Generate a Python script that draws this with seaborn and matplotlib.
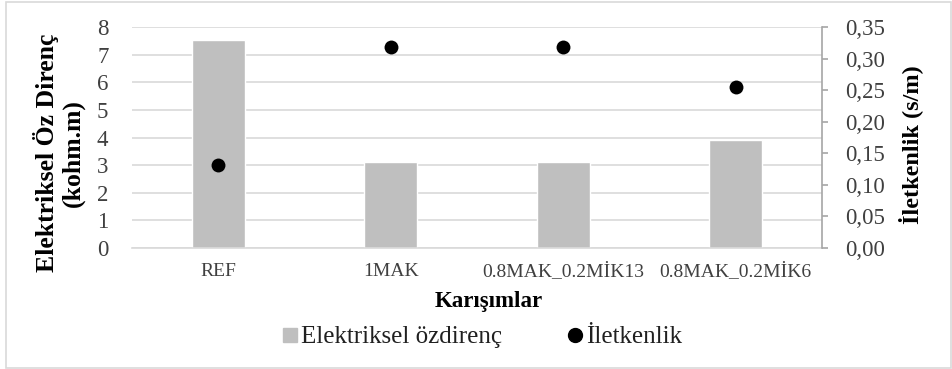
import numpy as np
import pandas as pd
import matplotlib
matplotlib.use("Agg")
import matplotlib.pyplot as plt
import seaborn as sns
from matplotlib.ticker import FuncFormatter, MultipleLocator
from matplotlib.lines import Line2D
from matplotlib.patches import Rectangle

# Data
karisimlar = ["REF", "1MAK", "0.8MAK_0.2MİK13", "0.8MAK_0.2MİK6"]
ozdirenc = [7.54, 3.13, 3.10, 3.90]        # kohm.m
iletkenlik = [0.132, 0.318, 0.319, 0.255]  # s/m

left_ticks = [0, 1, 2, 3, 4, 5, 6, 7, 8]
right_ticks = [0.00, 0.05, 0.10, 0.15, 0.20, 0.25, 0.30, 0.35]

sns.set_theme(style="white")
plt.rcParams["font.family"] = ["Liberation Serif", "DejaVu Serif"]

W, H = 952, 369
fig = plt.figure(figsize=(W / 100, H / 100), dpi=100)
ax = fig.add_axes([132 / W, 1 - 248 / H, (822 - 132) / W, (248 - 27) / H])

df = pd.DataFrame({"Karışımlar": karisimlar, "Özdirenç": ozdirenc, "İletkenlik": iletkenlik})

bar_color = "#bfbfbf"
grid_color = "#d9d9d9"
axis_gray = "#a6a6a6"
text_color = "#404040"

sns.barplot(data=df, x="Karışımlar", y="Özdirenç", order=karisimlar, color=bar_color,
            saturation=1, width=0.31, errorbar=None, ax=ax, zorder=2)
ax.set_ylim(0, 8)
ax.set_yticks(left_ticks)
ax.set_xlim(-0.5, len(karisimlar) - 0.5)
ax.set_axisbelow(True)
ax.grid(axis="y", color=grid_color, linewidth=1.2)
ax.grid(axis="x", visible=False)
for s in ["left", "right", "top"]:
    ax.spines[s].set_visible(False)
ax.spines["bottom"].set_color(grid_color)
ax.spines["bottom"].set_linewidth(1.2)
ax.tick_params(axis="y", length=0, pad=17, labelsize=16.5, colors=text_color)
ax.tick_params(axis="x", length=0, pad=10.5, labelsize=14, colors=text_color)
ax.set_xlabel("")
ax.set_ylabel("")

# Secondary axis for conductivity
ax2 = ax.twinx()
sns.stripplot(data=df, x="Karışımlar", y="İletkenlik", order=karisimlar, jitter=False,
              color="black", size=10, ax=ax2, zorder=3)
ax2.set_xlim(-0.5, len(karisimlar) - 0.5)
ax2.set_ylim(0, 0.35)
ax2.set_yticks(right_ticks)
ax2.yaxis.set_major_formatter(FuncFormatter(lambda v, p: f"{v:.2f}".replace(".", ",")))
ax2.grid(False)
for s in ["left", "top", "bottom"]:
    ax2.spines[s].set_visible(False)
ax2.spines["right"].set_visible(True)
ax2.spines["right"].set_color(axis_gray)
ax2.spines["right"].set_linewidth(1.2)
ax2.tick_params(axis="y", direction="out", length=4.5, width=1.2, color=axis_gray,
                pad=12, labelsize=16.5, labelcolor=text_color, right=True)
ax2.set_ylabel("")
ax2.set_xlabel("")

# Axis titles
fig.text(59 / W, 1 - 153 / H, "Elektriksel Öz Direnç\n(kohm.m)", rotation=90,
         ha="center", va="center", multialignment="center", fontsize=18.5,
         fontweight="bold", color="black", linespacing=1.15)
fig.text(911 / W, 1 - 145 / H, "İletkenlik (s/m)", rotation=90, ha="center", va="center",
         fontsize=17.5, fontweight="bold", color="black")
fig.text(489 / W, 1 - 302 / H, "Karışımlar", ha="center", va="center",
         fontsize=16.5, fontweight="bold", color="black")

# Legend
handles = [
    Line2D([], [], marker="s", linestyle="none", markersize=9.5,
           markerfacecolor=bar_color, markeredgecolor=bar_color),
    Line2D([], [], marker="o", linestyle="none", markersize=10,
           markerfacecolor="black", markeredgecolor="black"),
]
fig.legend(handles, ["Elektriksel özdirenç", "İletkenlik"], loc="center",
           bbox_to_anchor=(482 / W, 1 - 337 / H), ncol=2, frameon=False,
           fontsize=18, handlelength=0.6, handletextpad=0.15, columnspacing=2.6,
           labelcolor="#202020")

# Chart border
fig.patches.append(Rectangle((6 / W, 1 / H), (W - 7) / W, (H - 3) / H,
                             transform=fig.transFigure, fill=False,
                             edgecolor=grid_color, linewidth=1.2))

fig.savefig("out.png", dpi=100)
